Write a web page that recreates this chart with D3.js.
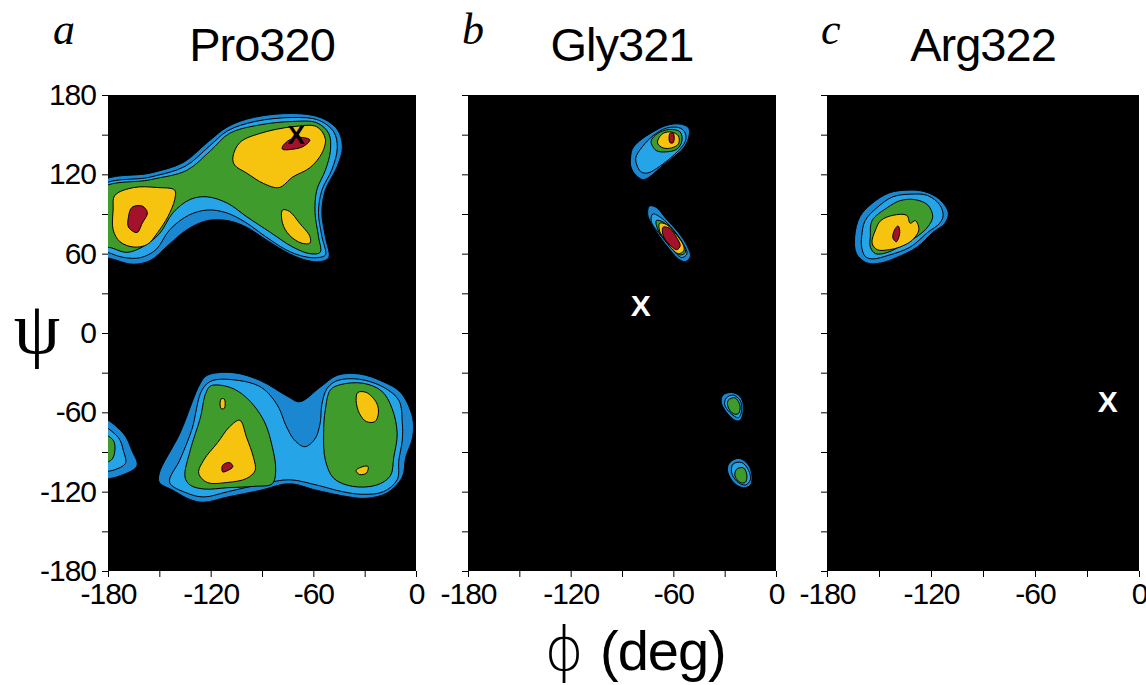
<!DOCTYPE html>
<html><head><meta charset="utf-8">
<script src="https://cdn.jsdelivr.net/npm/d3@7"></script>
<style>html,body{margin:0;padding:0;background:#fff;}svg{display:block;}</style>
</head><body><svg id="chart" width="1146" height="685"></svg>
<script>
// ---------- labels & ticks ----------
const panelLetters = ["a", "b", "c"];
const titles = ["Pro320", "Gly321", "Arg322"];
const phiTicks = [-180, -150, -120, -90, -60, -30, 0];
const phiTickLabels = [-180, -120, -60, 0];
const psiTicks = [180, 150, 120, 90, 60, 30, 0, -30, -60, -90, -120, -150, -180];
const psiTickLabels = [180, 120, 60, 0, -60, -120, -180];
const xAxisTitle = "(deg)";

// ---------- Panel a : Pro320 contours [phi, psi] ----------
const proUpperL1 = [[-185,113],[-155,121],[-136,129],[-122,144],[-110,156],[-95,163],[-72,166],[-56,163],[-46,154],[-43,141],[-46,126],[-53,108],[-55,91],[-53,73],[-51,57],[-56,54],[-64,55],[-74,60],[-87,70],[-99,80],[-110,85],[-122,85],[-134,78],[-146,65],[-155,55],[-165,52],[-175,55],[-185,61]];
const proUpperL2 = [[-185,110],[-155,118],[-135,126],[-121,141],[-110,153],[-94,160],[-72,163],[-57,161],[-48,152],[-46,140],[-49,124],[-55,108],[-57,91],[-55,73],[-53,59],[-58,57],[-66,58],[-76,63],[-88,73],[-100,84],[-111,91],[-122,93],[-133,89],[-144,78],[-152,63],[-161,57],[-170,57],[-178,60],[-185,65]];
const proUpperG = [[-185,108],[-155,116],[-134,123],[-120,138],[-109,151],[-93,157],[-72,160],[-58,159],[-51,151],[-50,138],[-53,123],[-58,108],[-59,91],[-57,73],[-56,61],[-62,60],[-72,65],[-85,76],[-99,88],[-110,98],[-122,103],[-132,101],[-142,91],[-150,75],[-160,65],[-169,61],[-177,64],[-185,68]];
const proUpperY1 = [[-107,133],[-103,144],[-91,151],[-72,156],[-58,156],[-53,147],[-55,136],[-62,125],[-72,118],[-80,110],[-89,113],[-99,121],[-106,127]];
const proUpperY2 = [[-176,104],[-165,110],[-151,110],[-141,108],[-141,101],[-145,88],[-151,76],[-157,67],[-165,65],[-173,69],[-177,78],[-177,93]];
const proUpperY3 = [[-78,93],[-74,92],[-68,83],[-62,73],[-62,68],[-67,68],[-74,74],[-78,83]];
const proUpperR1 = [[-78,141],[-74,146],[-68,148],[-62,146],[-66,141],[-72,139],[-78,139]];
const proUpperR2 = [[-166,95],[-160,96],[-157,91],[-160,83],[-163,76],[-168,80],[-168,88]];
const proLowerL1 = [[-150,-106],[-138,-76],[-126,-38],[-122,-32],[-107,-30],[-91,-36],[-75,-48],[-68,-52],[-56,-41],[-46,-32],[-33,-31],[-19,-37],[-9,-45],[-2,-64],[-2,-79],[-6,-94],[-8,-109],[-17,-121],[-29,-125],[-39,-124],[-58,-119],[-74,-114],[-91,-119],[-110,-124],[-124,-128],[-132,-126],[-142,-119],[-150,-113]];
const proLowerL2 = [[-144,-113],[-138,-96],[-131,-73],[-125,-43],[-119,-36],[-103,-36],[-92,-40],[-86,-46],[-80,-57],[-76,-70],[-71,-81],[-65,-86],[-59,-80],[-56,-68],[-55,-54],[-52,-42],[-46,-36],[-33,-35],[-19,-41],[-10,-51],[-8,-68],[-8,-81],[-10,-96],[-11,-111],[-19,-120],[-31,-122],[-43,-120],[-58,-115],[-74,-111],[-89,-114],[-110,-120],[-124,-124],[-134,-121]];
const proLowerG1 = [[-120,-40],[-109,-41],[-99,-49],[-89,-66],[-84,-86],[-82,-104],[-84,-114],[-95,-116],[-110,-117],[-124,-118],[-132,-115],[-135,-109],[-132,-89],[-126,-64],[-123,-46]];
const proLowerG2 = [[-50,-43],[-44,-39],[-31,-38],[-20,-44],[-14,-57],[-11,-76],[-13,-94],[-15,-108],[-23,-115],[-37,-116],[-48,-110],[-53,-96],[-54,-76],[-53,-58]];
const proLowerYs = [[-114,-50],[-112,-50],[-112,-57],[-114,-57]];
const proLowerY1 = [[-109,-71],[-103,-66],[-99,-79],[-95,-94],[-94,-104],[-99,-110],[-110,-113],[-122,-113],[-127,-106],[-124,-96],[-116,-83]];
const proLowerY2 = [[-34,-45],[-29,-45],[-23,-53],[-22,-61],[-24,-67],[-29,-67],[-33,-61],[-35,-51]];
const proLowerY3 = [[-35,-104],[-31,-101],[-28,-101],[-29,-106],[-33,-107]];
const proLowerR1 = [[-113,-100],[-109,-98],[-107,-101],[-110,-104],[-113,-105]];
const proEdgeL1 = [[-185,-64],[-171,-76],[-166,-89],[-163,-100],[-169,-106],[-185,-109]];
const proEdgeL2 = [[-185,-70],[-174,-79],[-171,-89],[-170,-99],[-185,-104]];
const proEdgeG = [[-185,-76],[-177,-81],[-176,-89],[-178,-96],[-185,-98]];
const proMark = [-70, 150];

// ---------- Panel b : Gly321 ----------
const glyUpperL1 = [[-85,132],[-84,139],[-80,145],[-72,152],[-64,157],[-56,158],[-51,155],[-51,148],[-54,140],[-60,133],[-66,127],[-74,118],[-78,116],[-83,121],[-85,127]];
const glyUpperL2 = [[-82,132],[-78,141],[-72,149],[-64,155],[-56,155],[-53,151],[-53,145],[-57,138],[-62,132],[-68,126],[-75,121],[-79,122]];
const glyUpperG = [[-73,145],[-69,151],[-62,154],[-56,152],[-55,145],[-58,139],[-64,137],[-70,138]];
const glyUpperY = [[-69,146],[-66,151],[-61,152],[-57,149],[-57,143],[-61,140],[-66,140],[-69,143]];
const glyUpperR = [[-62,151],[-60,151],[-60,144],[-62,144]];
const glyLowerL1 = [[-74,96],[-70,95],[-64,86],[-57,76],[-52,66],[-50,58],[-53,54],[-57,56],[-62,63],[-68,73],[-73,83],[-75,90]];
const glyLowerL2 = [[-72,90],[-67,87],[-60,78],[-54,67],[-52,60],[-55,57],[-59,61],[-64,69],[-70,78],[-73,85]];
const glyLowerG = [[-70,85],[-66,84],[-59,76],[-54,66],[-53,61],[-56,59],[-60,63],[-65,70],[-69,78]];
const glyLowerY = [[-68,83],[-64,82],[-58,74],[-54,66],[-54,62],[-57,60],[-61,64],[-65,71],[-68,77]];
const glyLowerR = [[-66,80],[-62,79],[-58,72],[-56,66],[-58,63],[-63,68],[-66,74]];
const glyS1L1 = [[-31,-47],[-26,-45],[-21,-48],[-19,-56],[-21,-66],[-24,-66],[-30,-58],[-32,-52]];
const glyS1L2 = [[-29,-49],[-25,-47],[-21,-51],[-20,-58],[-22,-64],[-27,-60],[-30,-54]];
const glyS1G = [[-28,-51],[-24,-49],[-21,-55],[-22,-61],[-25,-61],[-28,-56]];
const glyS2L1 = [[-25,-96],[-21,-95],[-16,-100],[-14,-109],[-15,-115],[-19,-117],[-24,-114],[-28,-106],[-28,-100]];
const glyS2L2 = [[-25,-99],[-20,-98],[-16,-104],[-15,-111],[-18,-115],[-23,-112],[-26,-105]];
const glyS2G = [[-23,-103],[-19,-102],[-17,-108],[-18,-113],[-21,-113],[-24,-108]];
const glyMark = [-79, 21];

// ---------- Panel c : Arg322 ----------
const argL1 = [[-164,73],[-161,88],[-154,98],[-144,106],[-134,108],[-124,107],[-115,101],[-110,91],[-112,83],[-119,76],[-128,65],[-140,57],[-149,53],[-157,53],[-163,60]];
const argL2 = [[-160,73],[-158,85],[-151,95],[-142,103],[-132,105],[-122,104],[-115,97],[-113,89],[-115,83],[-122,76],[-132,65],[-144,59],[-154,56],[-158,58],[-160,65]];
const argG = [[-155,73],[-154,85],[-145,95],[-138,100],[-130,101],[-122,97],[-119,88],[-122,80],[-128,73],[-136,67],[-145,61],[-152,60],[-155,65]];
const argY = [[-152,78],[-149,85],[-142,89],[-134,89],[-132,83],[-129,85],[-127,78],[-131,70],[-138,65],[-144,63],[-151,63],[-154,68]];
const argR = [[-141,78],[-139,81],[-138,76],[-140,69],[-142,72]];
const argMark = [-18, -52];

// ---------- assemble ----------
const levelFills = ["#1b87d0", "#26a4e8", "#3e9b2c", "#f6c40f", "#a3112b"];
const panels = [
  { levels: [[proUpperL1, proLowerL1, proEdgeL1], [proUpperL2, proLowerL2, proEdgeL2],
             [proUpperG, proLowerG1, proLowerG2, proEdgeG],
             [proUpperY1, proUpperY2, proUpperY3, proLowerYs, proLowerY1, proLowerY2, proLowerY3],
             [proUpperR1, proUpperR2, proLowerR1]], mark: proMark, markColor: "#000", markSize: 26 },
  { levels: [[glyUpperL1, glyLowerL1, glyS1L1, glyS2L1], [glyUpperL2, glyLowerL2, glyS1L2, glyS2L2],
             [glyUpperG, glyLowerG, glyS1G, glyS2G], [glyUpperY, glyLowerY], [glyUpperR, glyLowerR]],
    mark: glyMark, markColor: "#fff", markSize: 30 },
  { levels: [[argL1], [argL2], [argG], [argY], [argR]], mark: argMark, markColor: "#fff", markSize: 30 }
];
const layout = [{ x0: 108, x1: 416 }, { x0: 468, x1: 776 }, { x0: 827, x1: 1139 }];
const yTop = 95, yBot = 571;

const svg = d3.select("#chart");
const y = d3.scaleLinear().domain([-180, 180]).range([yBot, yTop]);
const sans = "'Liberation Sans', Arial, Helvetica, sans-serif";

panels.forEach((p, i) => {
  const L = layout[i];
  const x = d3.scaleLinear().domain([-180, 0]).range([L.x0, L.x1]);
  const line = d3.line().x(d => x(d[0])).y(d => y(d[1])).curve(d3.curveCatmullRomClosed.alpha(0.5));

  svg.append("clipPath").attr("id", "clip" + i)
    .append("rect").attr("x", L.x0).attr("y", yTop).attr("width", L.x1 - L.x0).attr("height", yBot - yTop);

  const g = svg.append("g").attr("clip-path", `url(#clip${i})`);
  g.append("rect").attr("x", L.x0).attr("y", yTop).attr("width", L.x1 - L.x0).attr("height", yBot - yTop).attr("fill", "#000");

  p.levels.forEach((pieces, li) => {
    g.selectAll(null).data(pieces).join("path")
      .attr("d", line)
      .attr("fill", levelFills[li])
      .attr("stroke", "#000")
      .attr("stroke-width", 1);
  });

  g.append("text")
    .attr("x", x(p.mark[0])).attr("y", y(p.mark[1]))
    .attr("text-anchor", "middle").attr("dominant-baseline", "central")
    .attr("font-family", sans).attr("font-weight", "bold").attr("font-size", p.markSize)
    .attr("fill", p.markColor).text("X");

  // axes
  const yAxis = d3.axisLeft(y).tickValues(psiTicks).tickSize(6).tickPadding(6)
    .tickFormat(d => (i === 0 && psiTickLabels.includes(d)) ? String(d) : "");
  const ya = svg.append("g").attr("transform", `translate(${L.x0},0)`).call(yAxis);
  ya.select(".domain").remove();
  ya.selectAll("text").attr("font-family", sans).attr("font-size", 30).attr("letter-spacing", -1).attr("fill", "#000");

  const xAxis = d3.axisBottom(x).tickValues(phiTicks).tickSize(6).tickPadding(6)
    .tickFormat(d => phiTickLabels.includes(d) ? String(d) : "");
  const xa = svg.append("g").attr("transform", `translate(0,${yBot})`).call(xAxis);
  xa.select(".domain").remove();
  xa.selectAll("text").attr("font-family", sans).attr("font-size", 30).attr("letter-spacing", -1).attr("fill", "#000");

  // titles
  svg.append("text").attr("x", (L.x0 + L.x1) / 2).attr("y", 61)
    .attr("text-anchor", "middle").attr("font-family", sans).attr("font-size", 47)
    .attr("letter-spacing", -1).text(titles[i]);
  svg.append("text").attr("x", L.x0 - 55 + (i === 0 ? 0 : 49)).attr("y", 44)
    .attr("font-family", "'Liberation Serif', 'Times New Roman', serif").attr("font-style", "italic")
    .attr("font-size", 44).text(panelLetters[i]);
});

// axis titles
svg.append("text").attr("x", 37).attr("y", 353).attr("text-anchor", "middle")
  .attr("font-family", "'Liberation Serif', 'DejaVu Serif', serif").attr("font-size", 74).text("ψ");
svg.append("text").attr("x", 564).attr("y", 670).attr("text-anchor", "middle")
  .attr("font-family", "'DejaVu Sans', sans-serif").attr("font-weight", 200).attr("font-size", 60).text("ϕ");
svg.append("text").attr("x", 600).attr("y", 670)
  .attr("font-family", sans).attr("font-size", 56).attr("letter-spacing", -1).text(xAxisTitle);
</script></body></html>
